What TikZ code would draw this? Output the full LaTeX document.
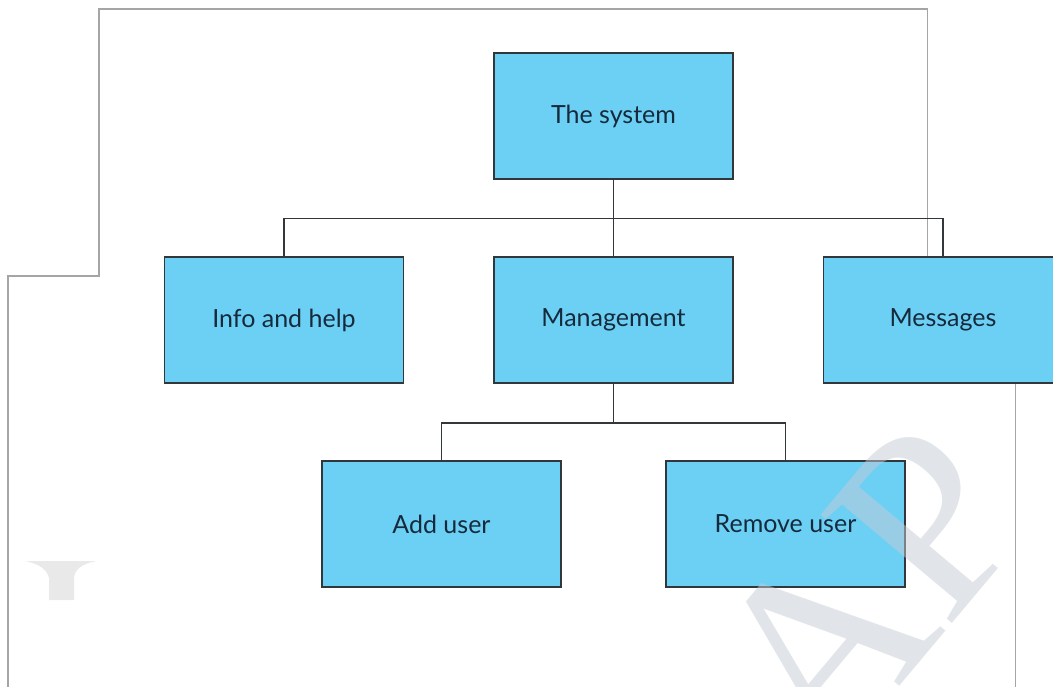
\documentclass[tikz,border=0pt]{standalone}
\usepackage{fontspec}
\setmainfont{Lato}
\newfontfamily\markfont{Liberation Serif}
\definecolor{boxfill}{RGB}{108,208,245}
\definecolor{boxline}{RGB}{50,55,60}
\definecolor{labeltext}{RGB}{22,42,60}
\definecolor{framegray}{RGB}{165,165,165}
\definecolor{markgray}{RGB}{196,203,214}
\tikzset{
  unit/.style={draw=boxline, line width=1.8pt, fill=boxfill,
    minimum width=239pt, minimum height=126pt, inner sep=0pt,
    text=labeltext, font=\fontsize{25}{29}\selectfont},
  link/.style={draw=boxline, line width=1.8pt},
  frame/.style={draw=framegray, line width=1.3pt},
}
\begin{document}
\begin{tikzpicture}[x=1pt, y=-1pt]
\useasboundingbox (0,0) rectangle (1053,687);
\clip (0,0) rectangle (1053,687);

% page frame lines
\draw[frame] (8,687) -- (8,276) -- (99,276) -- (99,9) -- (927.5,9) -- (927.5,257);
\draw[frame] (1015.5,383) -- (1015.5,687);

% faded mark at the left edge
\fill[gray!17] (25,561) -- (97,561) .. controls (80,564) and (75,570) .. (74,578)
  -- (74,600) -- (49,600) -- (49,578) .. controls (47,570) and (40,564) .. (25,561) -- cycle;

% hierarchy boxes
\node[unit] (sys)  at (613.5,116) {The system};
\node[unit] (info) at (284,320)   {Info and help};
\node[unit] (mgmt) at (613.5,320) {Management};
\node[unit] (msg)  at (943,320)   {Messages};
\node[unit] (add)  at (441.5,524) {Add user};
\node[unit] (rem)  at (785.5,524) {Remove user};

% connector buses
\coordinate (bus1) at (613.5,218.5);
\coordinate (bus2) at (613.5,423);
\draw[link] (sys.south) -- (bus1);
\draw[link] (info.north) -- (info.north |- bus1) -- (msg.north |- bus1) -- (msg.north);
\draw[link] (bus1) -- (mgmt.north);
\draw[link] (mgmt.south) -- (bus2);
\draw[link] (add.north) -- (add.north |- bus2) -- (rem.north |- bus2) -- (rem.north);

% diagonal watermark
\node[rotate=50, anchor=base west, inner sep=0pt, text=markgray, opacity=0.5,
  font=\markfont\fontsize{260}{260}\selectfont] (mark) at (826,774) {AP};
\end{tikzpicture}
\end{document}
